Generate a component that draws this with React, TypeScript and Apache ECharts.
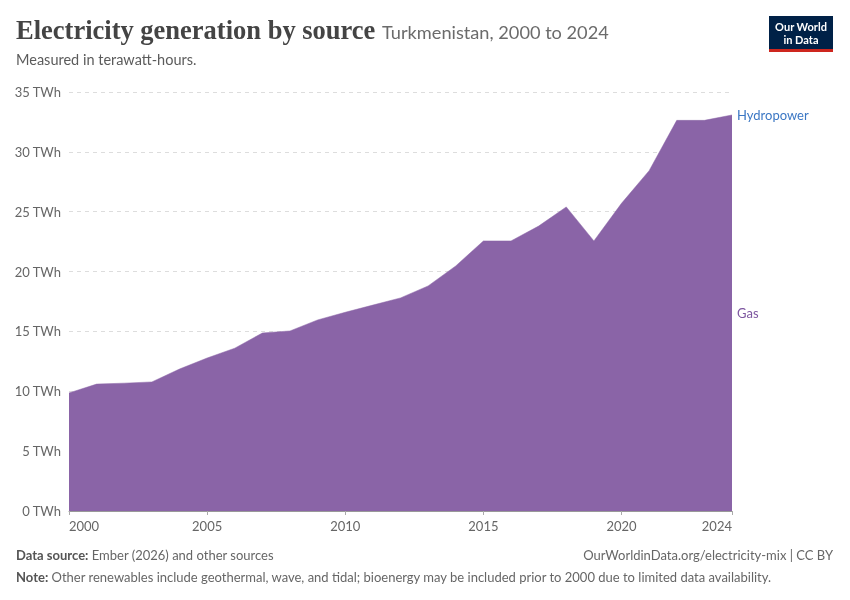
import React, { useEffect, useRef } from "react";
import * as echarts from "echarts";

const years = [2000, 2001, 2002, 2003, 2004, 2005, 2006, 2007, 2008, 2009, 2010, 2011, 2012, 2013, 2014, 2015, 2016, 2017, 2018, 2019, 2020, 2021, 2022, 2023, 2024];
const gas = [9.86, 10.6, 10.68, 10.78, 11.86, 12.78, 13.6, 14.87, 15.04, 15.96, 16.6, 17.2, 17.8, 18.8, 20.47, 22.56, 22.56, 23.8, 25.4, 22.56, 25.7, 28.43, 32.63, 32.63, 33.08];
const hydropower = [0.003, 0.003, 0.003, 0.003, 0.003, 0.003, 0.003, 0.003, 0.003, 0.003, 0.003, 0.003, 0.003, 0.003, 0.003, 0.003, 0.003, 0.003, 0.003, 0.003, 0.003, 0.003, 0.003, 0.003, 0.003];
const xTicks = [2000, 2005, 2010, 2015, 2020, 2024];

const GAS = "#8a64a7";
const HYDRO = "#3b77c4";
const FONT = "Lato, 'Noto Sans', sans-serif";

export default function App() {
  const ref = useRef<HTMLDivElement>(null);
  useEffect(() => {
    document.body.style.margin = "0";
    const chart = echarts.init(ref.current!, null, { renderer: "svg" });
    const option: any = {
      animation: false,
      textStyle: { fontFamily: FONT },
      grid: { left: 69, right: 118, top: 92, bottom: 89 },
      xAxis: {
        type: "value",
        min: 2000,
        max: 2024,
        interval: 1,
        axisLine: { show: true, lineStyle: { color: "#999", width: 1 } },
        axisTick: {
          show: true,
          length: 4,
          lineStyle: { color: "#aaa" },
          customValues: xTicks,
        },
        axisLabel: {
          color: "#666",
          fontSize: 13,
          fontFamily: FONT,
          margin: 8,
          customValues: xTicks,
          alignMinLabel: "left",
          alignMaxLabel: "right",
          formatter: (v: number) => String(v),
        },
        splitLine: { show: false },
      },
      yAxis: {
        type: "value",
        min: 0,
        max: 35,
        interval: 5,
        axisLine: { show: false },
        axisTick: { show: false },
        axisLabel: {
          color: "#666",
          fontSize: 13,
          fontFamily: FONT,
          margin: 8,
          formatter: (v: number) => `${v} TWh`,
        },
        splitLine: { show: true, lineStyle: { color: "#ddd", type: [4, 4], width: 1 } },
      },
      series: [
        {
          name: "Gas",
          type: "line",
          stack: "total",
          data: years.map((y, i) => [y, gas[i]]),
          symbol: "none",
          lineStyle: { width: 0.5, color: GAS },
          areaStyle: { color: GAS, opacity: 1 },
        },
        {
          name: "Hydropower",
          type: "line",
          stack: "total",
          data: years.map((y, i) => [y, hydropower[i]]),
          symbol: "none",
          lineStyle: { width: 0.8, color: "#6b7fb8" },
          areaStyle: { color: HYDRO, opacity: 1 },
        },
      ],
    };
    chart.setOption(option);

    const last = years.length - 1;
    const total = gas[last] + hydropower[last];
    const pGas = chart.convertToPixel({ gridIndex: 0 }, [years[last], gas[last] / 2]);
    const pHydro = chart.convertToPixel({ gridIndex: 0 }, [years[last], total]);

    chart.setOption({
      graphic: [
        {
          type: "text",
          left: 16,
          top: 16,
          style: {
            text: "Electricity generation by source",
            font: "bold 26.5px 'Liberation Serif', 'DejaVu Serif', serif",
            fill: "#444",
          },
        },
        {
          type: "text",
          left: 382,
          top: 23,
          style: {
            text: "Turkmenistan, 2000 to 2024",
            font: "18.2px " + FONT,
            fill: "#6b6b6b",
          },
        },
        {
          type: "text",
          left: 16,
          top: 52,
          style: {
            text: "Measured in terawatt-hours.",
            font: "14.5px " + FONT,
            fill: "#5b5b5b",
          },
        },
        {
          type: "group",
          left: 769,
          top: 16,
          children: [
            { type: "rect", shape: { x: 0, y: 0, width: 64, height: 36 }, style: { fill: "#002147" } },
            { type: "rect", shape: { x: 0, y: 33, width: 64, height: 3 }, style: { fill: "#ce261e" } },
            {
              type: "text",
              x: 32,
              y: 10,
              style: { text: "Our World", font: "bold 11px " + FONT, fill: "#fff", align: "center", verticalAlign: "middle" },
            },
            {
              type: "text",
              x: 32,
              y: 23,
              style: { text: "in Data", font: "bold 11px " + FONT, fill: "#fff", align: "center", verticalAlign: "middle" },
            },
          ],
        },
        {
          type: "text",
          x: pHydro[0] + 5,
          y: pHydro[1],
          style: { text: "Hydropower", font: "13px " + FONT, fill: HYDRO, verticalAlign: "middle" },
        },
        {
          type: "text",
          x: pGas[0] + 5,
          y: pGas[1],
          style: { text: "Gas", font: "13px " + FONT, fill: "#7d56a0", verticalAlign: "middle" },
        },
        {
          type: "text",
          left: 16,
          top: 548,
          style: {
            rich: {
              b: { font: "bold 13px " + FONT, fill: "#555" },
              n: { font: "13px " + FONT, fill: "#666" },
            },
            text: "{b|Data source:} {n|Ember (2026) and other sources}",
          },
        },
        {
          type: "text",
          right: 17,
          top: 548,
          style: {
            text: "OurWorldinData.org/electricity-mix | CC BY",
            font: "13px " + FONT,
            fill: "#666",
          },
        },
        {
          type: "text",
          left: 16,
          top: 570,
          style: {
            rich: {
              b: { font: "bold 13px " + FONT, fill: "#555" },
              n: { font: "13px " + FONT, fill: "#666" },
            },
            text: "{b|Note:} {n|Other renewables include geothermal, wave, and tidal; bioenergy may be included prior to 2000 due to limited data availability.}",
          },
        },
      ],
    });
    return () => chart.dispose();
  }, []);
  return <div ref={ref} style={{ position: "fixed", left: 0, top: 0, width: 850, height: 600 }} />;
}
